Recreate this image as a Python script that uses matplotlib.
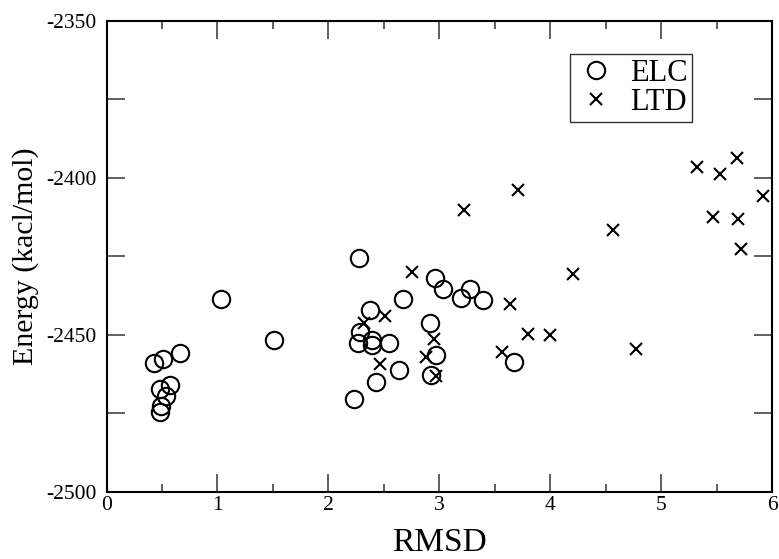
import numpy as np
import matplotlib
matplotlib.use('Agg')
import matplotlib.pyplot as plt
from matplotlib.ticker import MultipleLocator

# ELC points (RMSD, energy)
elc_rmsd = [0.43, 0.51, 0.66, 0.57, 0.48, 0.54, 0.49, 0.48, 1.03, 1.51,
            2.28, 2.38, 2.29, 2.27, 2.39, 2.39, 2.55, 2.67, 2.43, 2.64,
            2.23, 2.92, 2.97, 2.93, 2.96, 3.03, 3.20, 3.28, 3.39, 3.67]
elc_energy = [-2458.9, -2457.5, -2455.7, -2465.9, -2467.2, -2469.3, -2472.5, -2474.4, -2438.4, -2451.6,
              -2425.6, -2442.0, -2448.9, -2452.7, -2451.6, -2453.2, -2452.7, -2438.5, -2465.0, -2461.0,
              -2470.4, -2446.3, -2456.4, -2462.7, -2431.8, -2435.5, -2438.1, -2435.3, -2438.7, -2458.6]

# LTD points
ltd_rmsd = [2.32, 2.47, 2.51, 2.75, 2.88, 2.95, 2.97, 3.22, 3.57, 3.64,
            3.71, 3.80, 4.00, 4.21, 4.57, 4.77, 5.32, 5.47, 5.53, 5.68,
            5.69, 5.72, 5.92]
ltd_energy = [-2446.3, -2459.3, -2443.9, -2429.9, -2457.0, -2451.4, -2463.2, -2410.2, -2455.4, -2440.0,
              -2403.7, -2449.7, -2450.0, -2430.7, -2416.7, -2454.5, -2396.4, -2412.4, -2398.8, -2393.7,
              -2413.0, -2422.6, -2405.7]

plt.rcParams['font.family'] = ['Liberation Serif', 'DejaVu Serif']
plt.rcParams['axes.unicode_minus'] = False

fig = plt.figure(figsize=(7.79, 5.59), dpi=100)
ax = fig.add_axes([106.5/779, 1-492/559, (772-106.5)/779, (492-21)/559])

ax.plot(elc_rmsd, elc_energy, linestyle='none', marker='o', markersize=12.5,
        markerfacecolor='none', markeredgecolor='black', markeredgewidth=1.5, label='ELC')
ax.plot(ltd_rmsd, ltd_energy, linestyle='none', marker='x', markersize=8,
        color='black', markeredgewidth=1.5, label='LTD')

ax.set_xlim(0, 6)
ax.set_ylim(-2500, -2350)
ax.xaxis.set_major_locator(MultipleLocator(1))
ax.xaxis.set_minor_locator(MultipleLocator(0.5))
ax.yaxis.set_major_locator(MultipleLocator(50))
ax.yaxis.set_minor_locator(MultipleLocator(25))
ax.tick_params(which='both', direction='in', top=True, right=True, labelsize=15.5, width=1.2, color='#444444')
ax.tick_params(which='major', length=13)
ax.tick_params(axis='x', which='minor', length=6)
ax.tick_params(axis='y', which='minor', length=13)
ax.tick_params(axis='x', pad=3)
ax.tick_params(axis='y', pad=7)
for s in ax.spines.values():
    s.set_linewidth(1.5)

ax.set_xlabel('RMSD', fontsize=24, labelpad=9)
ax.set_ylabel('Energy (kacl/mol)', fontsize=21.5, labelpad=5)

leg = ax.legend(loc='upper right', bbox_to_anchor=(0.88, 0.929), fontsize=22, frameon=True,
                fancybox=False, edgecolor='black', handletextpad=0.4, borderpad=0.15,
                labelspacing=0.0, handlelength=1.4, borderaxespad=0)
leg.get_frame().set_linewidth(1.0)

plt.savefig('out.png', dpi=100)
plt.close('all')
